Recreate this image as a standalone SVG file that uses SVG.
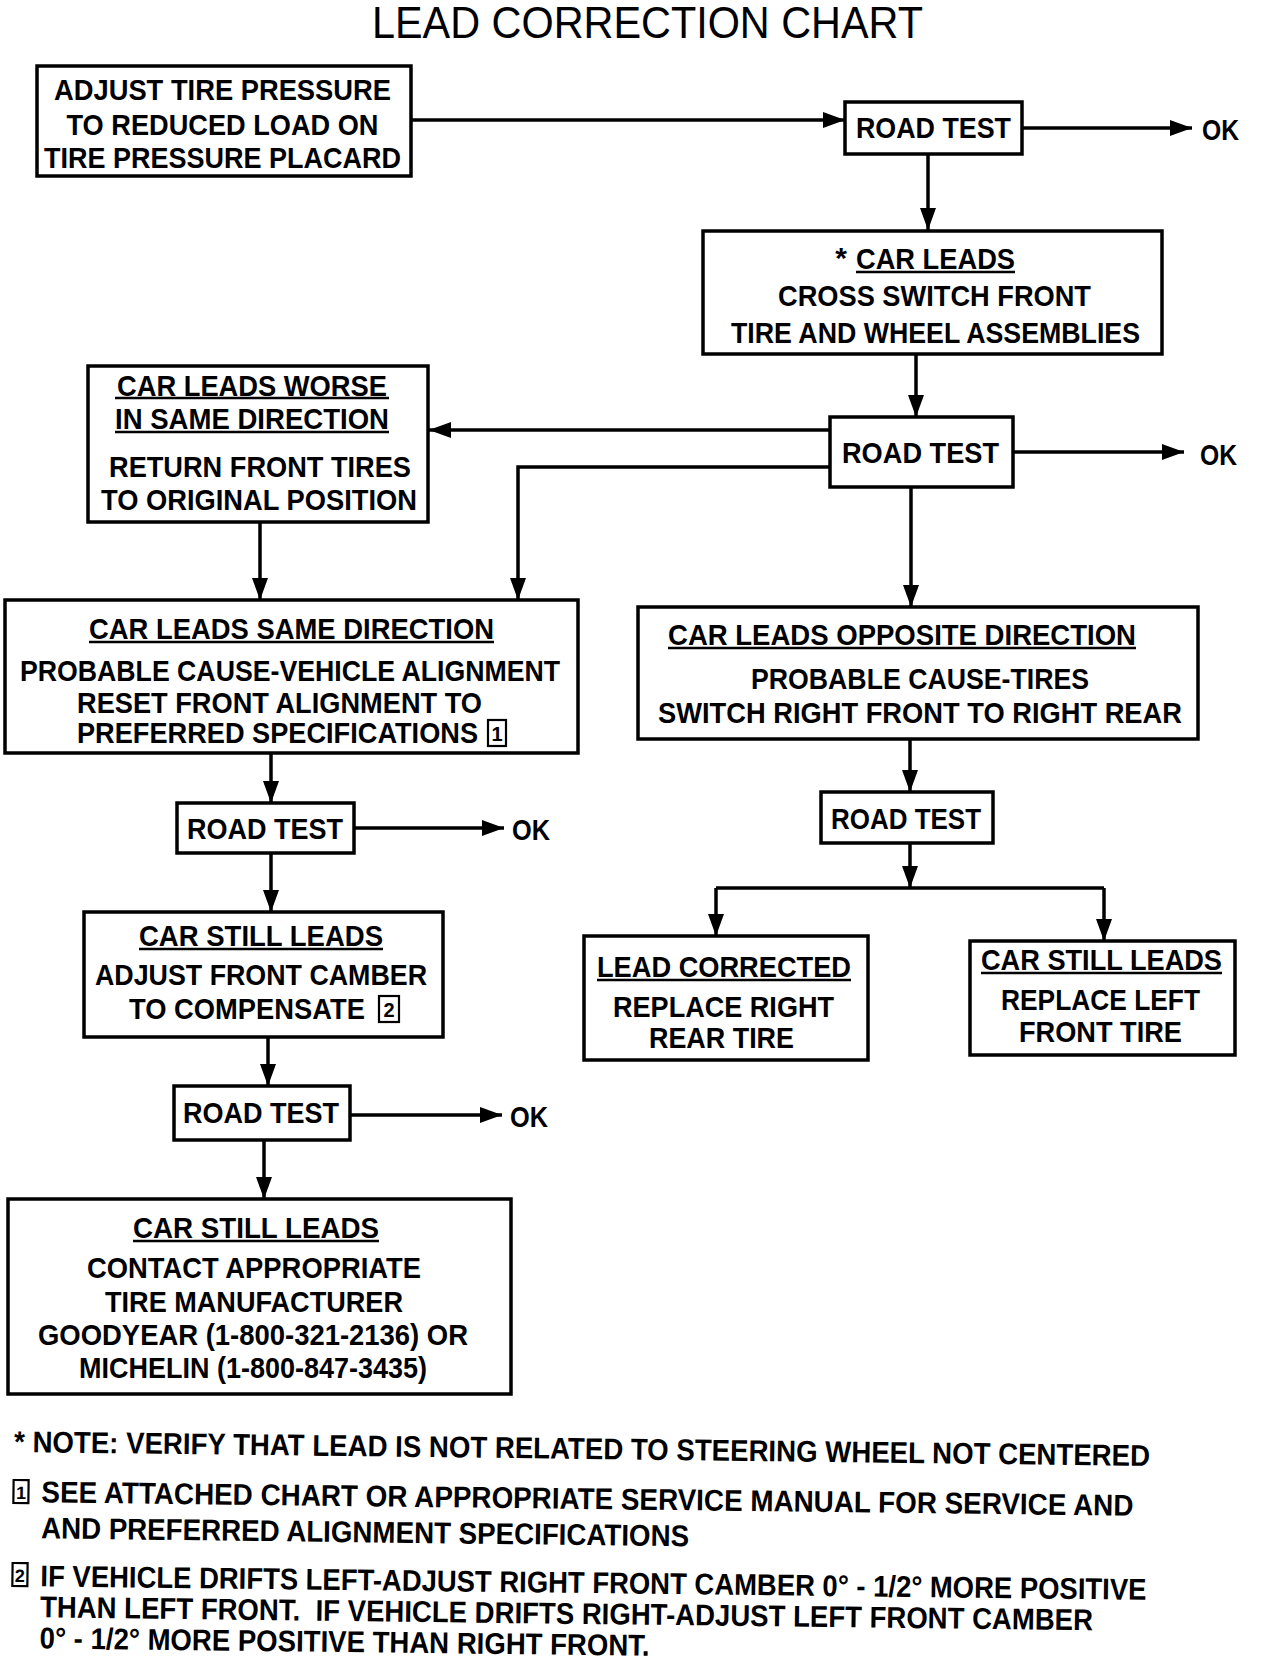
<svg xmlns="http://www.w3.org/2000/svg" width="1264" height="1660" viewBox="0 0 1264 1660">
<style>
.bx{fill:#fff;stroke:#000;stroke-width:3.5}
.t{font-family:"Liberation Sans",Arial,sans-serif;font-weight:bold;font-size:30px;fill:#000;text-anchor:middle}
.tl{font-family:"Liberation Sans",Arial,sans-serif;font-weight:bold;font-size:30px;fill:#000}
.ul{stroke:#000;stroke-width:2.5}
.c{fill:none;stroke:#000;stroke-width:3.5}
.nb{fill:none;stroke:#000;stroke-width:2.2}
.nd{font-family:"Liberation Sans",Arial,sans-serif;font-weight:bold;font-size:20px;fill:#000;text-anchor:middle}
</style>
<defs>
<marker id="ah" viewBox="0 0 22 16" refX="22" refY="8" markerWidth="22" markerHeight="16" markerUnits="userSpaceOnUse" orient="auto">
<path d="M0,0 L22,8 L0,16 z" fill="#000"/>
</marker>
</defs>
<rect width="1264" height="1660" fill="#fff"/>
<text x="647.5" y="38" textLength="551" lengthAdjust="spacingAndGlyphs" style="font-family:'Liberation Sans',Arial,sans-serif;font-size:44px;text-anchor:middle">LEAD CORRECTION CHART</text>

<g id="connectors">
<path class="c" d="M411,120 H845" marker-end="url(#ah)"/>
<path class="c" d="M1022,128 H1192" marker-end="url(#ah)"/>
<path class="c" d="M928,154 V230" marker-end="url(#ah)"/>
<path class="c" d="M916,354 V417" marker-end="url(#ah)"/>
<path class="c" d="M830,430 H429" marker-end="url(#ah)"/>
<path class="c" d="M830,467 H518 V600" marker-end="url(#ah)"/>
<path class="c" d="M1013,452 H1184" marker-end="url(#ah)"/>
<path class="c" d="M911,487 V607" marker-end="url(#ah)"/>
<path class="c" d="M260,522 V600" marker-end="url(#ah)"/>
<path class="c" d="M271,753 V803" marker-end="url(#ah)"/>
<path class="c" d="M354,828 H504" marker-end="url(#ah)"/>
<path class="c" d="M271,853 V912" marker-end="url(#ah)"/>
<path class="c" d="M268,1037 V1086" marker-end="url(#ah)"/>
<path class="c" d="M350,1115 H502" marker-end="url(#ah)"/>
<path class="c" d="M264,1140 V1199" marker-end="url(#ah)"/>
<path class="c" d="M910,739 V792" marker-end="url(#ah)"/>
<path class="c" d="M910,843 V888" marker-end="url(#ah)"/>
<path class="c" d="M716,888 H1104"/>
<path class="c" d="M716,888 V936" marker-end="url(#ah)"/>
<path class="c" d="M1104,888 V941" marker-end="url(#ah)"/>
</g>

<g id="n-adjust">
<rect class="bx" x="37" y="66" width="374" height="110"/>
<text class="t" x="222.5" y="100" textLength="337" lengthAdjust="spacingAndGlyphs">ADJUST TIRE PRESSURE</text>
<text class="t" x="222.5" y="135" textLength="312" lengthAdjust="spacingAndGlyphs">TO REDUCED LOAD ON</text>
<text class="t" x="222.5" y="168" textLength="357" lengthAdjust="spacingAndGlyphs">TIRE PRESSURE PLACARD</text>
</g>

<g id="n-rt1">
<rect class="bx" x="845" y="102" width="177" height="52"/>
<text class="t" x="933.5" y="138" textLength="155" lengthAdjust="spacingAndGlyphs">ROAD TEST</text>
</g>
<text id="ok1" class="t" x="1220.5" y="140" textLength="37" lengthAdjust="spacingAndGlyphs">OK</text>

<g id="n-carleads">
<rect class="bx" x="703" y="231" width="459" height="123"/>
<text class="t" x="841" y="268">*</text>
<text class="t" x="935.5" y="269" textLength="159" lengthAdjust="spacingAndGlyphs">CAR LEADS</text>
<line class="ul" x1="856" y1="272" x2="1015" y2="272"/>
<text class="t" x="934.5" y="306" textLength="313" lengthAdjust="spacingAndGlyphs">CROSS SWITCH FRONT</text>
<text class="t" x="935.5" y="343" textLength="409" lengthAdjust="spacingAndGlyphs">TIRE AND WHEEL ASSEMBLIES</text>
</g>

<g id="n-worse">
<rect class="bx" x="88" y="366" width="340" height="156"/>
<text class="t" x="252" y="396" textLength="270" lengthAdjust="spacingAndGlyphs">CAR LEADS WORSE</text>
<line class="ul" x1="115" y1="398" x2="389" y2="398"/>
<text class="t" x="252" y="429" textLength="274" lengthAdjust="spacingAndGlyphs">IN SAME DIRECTION</text>
<line class="ul" x1="115" y1="432" x2="389" y2="432"/>
<text class="t" x="260" y="477" textLength="302" lengthAdjust="spacingAndGlyphs">RETURN FRONT TIRES</text>
<text class="t" x="259" y="510" textLength="316" lengthAdjust="spacingAndGlyphs">TO ORIGINAL POSITION</text>
</g>

<g id="n-rt2">
<rect class="bx" x="830" y="417" width="183" height="70"/>
<text class="t" x="920.5" y="463" textLength="157" lengthAdjust="spacingAndGlyphs">ROAD TEST</text>
</g>
<text id="ok2" class="t" x="1218.5" y="465" textLength="37" lengthAdjust="spacingAndGlyphs">OK</text>

<g id="n-same">
<rect class="bx" x="5" y="600" width="573" height="153"/>
<text class="t" x="291.5" y="639" textLength="405" lengthAdjust="spacingAndGlyphs">CAR LEADS SAME DIRECTION</text>
<line class="ul" x1="89" y1="642" x2="494" y2="642"/>
<text class="t" x="290" y="681" textLength="540" lengthAdjust="spacingAndGlyphs">PROBABLE CAUSE-VEHICLE ALIGNMENT</text>
<text class="t" x="279.5" y="713" textLength="405" lengthAdjust="spacingAndGlyphs">RESET FRONT ALIGNMENT TO</text>
<text class="t" x="277.5" y="743" textLength="401" lengthAdjust="spacingAndGlyphs">PREFERRED SPECIFICATIONS</text>
<rect class="nb" x="488" y="720" width="18" height="26"/>
<text class="nd" x="497" y="741">1</text>
</g>

<g id="n-opp">
<rect class="bx" x="638" y="607" width="560" height="132"/>
<text class="t" x="902" y="645" textLength="468" lengthAdjust="spacingAndGlyphs">CAR LEADS OPPOSITE DIRECTION</text>
<line class="ul" x1="668" y1="648" x2="1136" y2="648"/>
<text class="t" x="920" y="689" textLength="338" lengthAdjust="spacingAndGlyphs">PROBABLE CAUSE-TIRES</text>
<text class="t" x="920" y="723" textLength="524" lengthAdjust="spacingAndGlyphs">SWITCH RIGHT FRONT TO RIGHT REAR</text>
</g>

<g id="n-rt3">
<rect class="bx" x="177" y="803" width="177" height="50"/>
<text class="t" x="265" y="839" textLength="156" lengthAdjust="spacingAndGlyphs">ROAD TEST</text>
</g>
<text id="ok3" class="t" x="531" y="840" textLength="38" lengthAdjust="spacingAndGlyphs">OK</text>

<g id="n-rt5">
<rect class="bx" x="821" y="792" width="172" height="51"/>
<text class="t" x="906" y="829" textLength="150" lengthAdjust="spacingAndGlyphs">ROAD TEST</text>
</g>

<g id="n-still1">
<rect class="bx" x="84" y="912" width="359" height="125"/>
<text class="t" x="261" y="946" textLength="244" lengthAdjust="spacingAndGlyphs">CAR STILL LEADS</text>
<line class="ul" x1="139" y1="949" x2="383" y2="949"/>
<text class="t" x="261" y="985" textLength="332" lengthAdjust="spacingAndGlyphs">ADJUST FRONT CAMBER</text>
<text class="t" x="247" y="1019" textLength="236" lengthAdjust="spacingAndGlyphs">TO COMPENSATE</text>
<rect class="nb" x="379" y="996" width="20" height="26"/>
<text class="nd" x="389" y="1017">2</text>
</g>

<g id="n-corrected">
<rect class="bx" x="584" y="936" width="284" height="124"/>
<text class="t" x="724" y="977" textLength="254" lengthAdjust="spacingAndGlyphs">LEAD CORRECTED</text>
<line class="ul" x1="597" y1="980" x2="851" y2="980"/>
<text class="t" x="723.5" y="1017" textLength="221" lengthAdjust="spacingAndGlyphs">REPLACE RIGHT</text>
<text class="t" x="721.5" y="1048" textLength="145" lengthAdjust="spacingAndGlyphs">REAR TIRE</text>
</g>

<g id="n-still-right">
<rect class="bx" x="970" y="941" width="265" height="114"/>
<text class="t" x="1101.5" y="970" textLength="241" lengthAdjust="spacingAndGlyphs">CAR STILL LEADS</text>
<line class="ul" x1="981" y1="973" x2="1222" y2="973"/>
<text class="t" x="1100.5" y="1010" textLength="199" lengthAdjust="spacingAndGlyphs">REPLACE LEFT</text>
<text class="t" x="1100.5" y="1042" textLength="163" lengthAdjust="spacingAndGlyphs">FRONT TIRE</text>
</g>

<g id="n-rt4">
<rect class="bx" x="174" y="1086" width="176" height="54"/>
<text class="t" x="261" y="1123" textLength="156" lengthAdjust="spacingAndGlyphs">ROAD TEST</text>
</g>
<text id="ok4" class="t" x="529" y="1127" textLength="38" lengthAdjust="spacingAndGlyphs">OK</text>

<g id="n-still2">
<rect class="bx" x="8" y="1199" width="503" height="195"/>
<text class="t" x="256" y="1238" textLength="246" lengthAdjust="spacingAndGlyphs">CAR STILL LEADS</text>
<line class="ul" x1="133" y1="1241" x2="379" y2="1241"/>
<text class="t" x="254" y="1278" textLength="334" lengthAdjust="spacingAndGlyphs">CONTACT APPROPRIATE</text>
<text class="t" x="254" y="1312" textLength="298" lengthAdjust="spacingAndGlyphs">TIRE MANUFACTURER</text>
<text class="t" x="253" y="1345" textLength="430" lengthAdjust="spacingAndGlyphs">GOODYEAR (1-800-321-2136) OR</text>
<text class="t" x="253" y="1378" textLength="348" lengthAdjust="spacingAndGlyphs">MICHELIN (1-800-847-3435)</text>
</g>

<g id="notes" transform="rotate(0.7 14 1450)">
<text class="tl" x="14" y="1452" textLength="1136" lengthAdjust="spacingAndGlyphs">* NOTE: VERIFY THAT LEAD IS NOT RELATED TO STEERING WHEEL NOT CENTERED</text>
<rect class="nb" x="14" y="1480" width="15" height="23"/>
<text class="nd" x="21.5" y="1499" style="font-size:18px">1</text>
<text class="tl" x="42" y="1502" textLength="1092" lengthAdjust="spacingAndGlyphs">SEE ATTACHED CHART OR APPROPRIATE SERVICE MANUAL FOR SERVICE AND</text>
<text class="tl" x="42" y="1538" textLength="648" lengthAdjust="spacingAndGlyphs">AND PREFERRED ALIGNMENT SPECIFICATIONS</text>
<rect class="nb" x="14" y="1563" width="15" height="23"/>
<text class="nd" x="21.5" y="1582" style="font-size:18px">2</text>
<text class="tl" x="42" y="1586" textLength="1106" lengthAdjust="spacingAndGlyphs">IF VEHICLE DRIFTS LEFT-ADJUST RIGHT FRONT CAMBER 0° - 1/2° MORE POSITIVE</text>
<text class="tl" x="42" y="1617" textLength="1053" lengthAdjust="spacingAndGlyphs" xml:space="preserve">THAN LEFT FRONT.  IF VEHICLE DRIFTS RIGHT-ADJUST LEFT FRONT CAMBER</text>
<text class="tl" x="42" y="1648" textLength="610" lengthAdjust="spacingAndGlyphs">0° - 1/2° MORE POSITIVE THAN RIGHT FRONT.</text>
</g>
</svg>
